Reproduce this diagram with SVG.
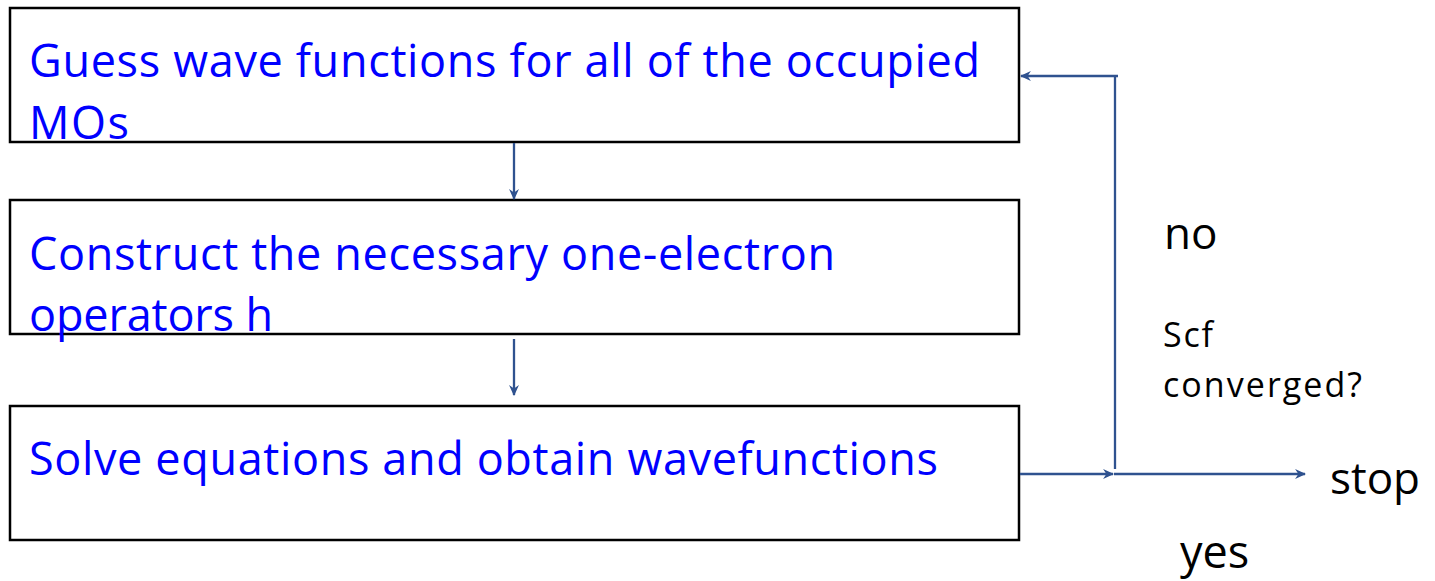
<svg xmlns="http://www.w3.org/2000/svg" width="1435" height="581" viewBox="0 0 1435 581">
<style>
.box{fill:#fff;stroke:#000;stroke-width:2.5}
.bt{font-family:"Open Sans","Liberation Sans",sans-serif;font-size:45px;fill:#0000ff}
.lt{font-family:"Open Sans","Liberation Sans",sans-serif;fill:#000}
.c{fill:none;stroke:#2f528f;stroke-width:2.3}
</style>
<defs>
<marker id="ah" viewBox="0 0 10 10" refX="9" refY="5" markerWidth="11" markerHeight="11" orient="auto" markerUnits="userSpaceOnUse">
<path d="M0,0.5 L10,5 L0,9.5 L3,5 Z" fill="#2f528f"/>
</marker>
</defs>
<rect width="1435" height="581" fill="#fff"/>
<g id="node1">
<rect class="box" x="10" y="8" width="1009" height="134"/>
<text class="bt" x="29" y="77" textLength="951">Guess wave functions for all of the occupied</text>
<text class="bt" x="29" y="139" textLength="100">MOs</text>
</g>
<g id="node2">
<rect class="box" x="10" y="200" width="1009" height="134"/>
<text class="bt" x="29" y="270" textLength="806">Construct the necessary one-electron</text>
<text class="bt" x="29" y="331" textLength="244">operators h</text>
</g>
<g id="node3">
<rect class="box" x="10" y="406" width="1009" height="134"/>
<text class="bt" x="29" y="475" textLength="909">Solve equations and obtain wavefunctions</text>
</g>
<g id="labels">
<text class="lt" x="1164" y="249" font-size="44">no</text>
<text class="lt" x="1163" y="347" font-size="34" textLength="50">Scf</text>
<text class="lt" x="1163" y="397" font-size="34" textLength="199">converged?</text>
<text class="lt" x="1330" y="494" font-size="44">stop</text>
<text class="lt" x="1180" y="568" font-size="45">yes</text>
</g>
<g id="connectors">
<line class="c" x1="514" y1="143" x2="514" y2="199" marker-end="url(#ah)"/>
<line class="c" x1="514" y1="339" x2="514" y2="395" marker-end="url(#ah)"/>
<line class="c" x1="1020" y1="474" x2="1113" y2="474" marker-end="url(#ah)"/>
<line class="c" x1="1114" y1="474" x2="1305" y2="474" marker-end="url(#ah)"/>
<line class="c" x1="1115" y1="469" x2="1115" y2="75"/>
<line class="c" x1="1118" y1="76" x2="1021" y2="76" marker-end="url(#ah)"/>
</g>
</svg>
